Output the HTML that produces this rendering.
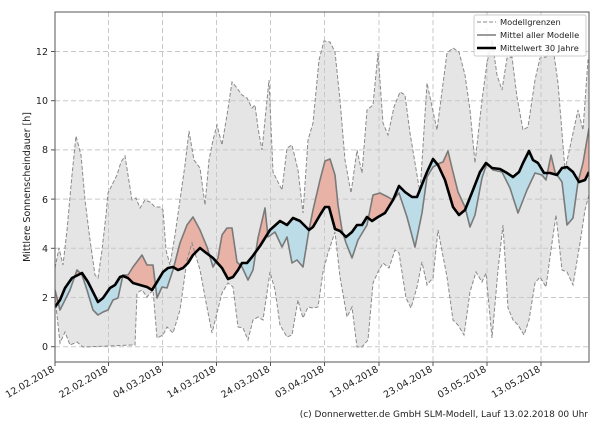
<!DOCTYPE html>
<html><head><meta charset="utf-8"><style>
body{margin:0;background:#fff;width:600px;height:420px;overflow:hidden}
svg text{font-family:"DejaVu Sans","Liberation Sans",sans-serif;fill:#222}
</style></head><body>
<svg width="600" height="420" viewBox="0 0 600 420">
<defs>
<clipPath id="plot"><rect x="55" y="12" width="534" height="350"/></clipPath>
<clipPath id="above"><polygon points="55,0 55,307 60,300 65,288 72,278 82,273 88,282 98,302 103,298 110,288 115,285 120,277 123,276 128,278 133,283 147,287 152,290 157,282 163,272 168,268 173,267 178,270 183,268 188,263 193,255 200,248 205,252 213,258 222,268 228,279 233,277 238,270 242,263 247,263 252,257 260,246 270,230 280,221 287,225 293,218 300,221 309,230 313,227 320,215 325,207 329,207 335,229 340,231 346,237 352,232 357,225 362,225 367,217 372,221 378,217 385,213 393,200 399,186 405,192 412,197 417,197 427,172 433,159 438,165 445,180 453,207 459,215 465,210 473,190 480,172 486,163 492,168 500,169 507,173 513,177 519,172 523,163 529,151 533,160 538,163 544,173 550,173 557,175 562,168 567,167 573,172 579,182 585,180 589,172 589,0"/></clipPath>
<clipPath id="below"><polygon points="55,420 55,307 60,300 65,288 72,278 82,273 88,282 98,302 103,298 110,288 115,285 120,277 123,276 128,278 133,283 147,287 152,290 157,282 163,272 168,268 173,267 178,270 183,268 188,263 193,255 200,248 205,252 213,258 222,268 228,279 233,277 238,270 242,263 247,263 252,257 260,246 270,230 280,221 287,225 293,218 300,221 309,230 313,227 320,215 325,207 329,207 335,229 340,231 346,237 352,232 357,225 362,225 367,217 372,221 378,217 385,213 393,200 399,186 405,192 412,197 417,197 427,172 433,159 438,165 445,180 453,207 459,215 465,210 473,190 480,172 486,163 492,168 500,169 507,173 513,177 519,172 523,163 529,151 533,160 538,163 544,173 550,173 557,175 562,168 567,167 573,172 579,182 585,180 589,172 589,420"/></clipPath>
</defs>
<g clip-path="url(#plot)">
<polygon fill="#e5e5e5" points="55,268 59,248 63,265 67,230 72,175 76,136 81,155 85,200 90,240 95,275 98,278 102,250 106,215 108,193 112,185 117,175 121,162 125,156 128,175 132,200 136,198 140,208 145,200 150,202 155,207 160,207 163,210 166,250 170,265 175,235 180,200 185,165 189,131 194,160 200,168 205,205 209,160 213,140 217,125 222,145 227,115 232,82 237,88 242,95 247,98 252,108 255,105 258,128 262,150 266,110 269,80 273,172 282,190 287,148 292,145 298,170 303,213 308,140 313,123 319,60 324,41 330,42 335,52 340,100 345,160 351,193 357,150 362,173 367,110 373,105 378,53 383,123 388,135 394,107 400,92 405,95 410,133 420,193 427,83 437,130 447,53 453,48 459,52 465,75 470,110 475,163 482,100 487,63 492,40 497,75 502,90 507,58 512,57 517,97 523,130 528,127 535,80 540,58 546,57 552,40 558,83 565,170 570,147 578,110 583,130 588,60 589,60 589,195 585,210 580,243 573,285 567,272 562,270 556,215 551,250 546,287 540,277 535,283 529,320 524,335 518,325 513,320 508,308 503,225 498,270 492,338 486,273 482,282 476,272 470,292 464,335 458,325 453,320 447,277 438,230 433,278 427,285 422,262 417,287 411,308 406,298 399,253 395,250 389,268 383,263 378,272 373,283 368,340 362,347 357,347 352,307 347,317 340,277 335,232 328,253 323,272 318,307 313,308 308,307 303,318 300,308 298,300 292,335 287,337 280,325 275,290 270,272 263,320 258,317 253,320 248,340 243,328 238,327 233,287 228,283 222,293 217,313 212,333 205,297 200,270 192,243 187,260 180,310 173,333 167,327 163,335 157,338 153,290 147,297 142,290 137,293 135,345 133,345 83,347 77,342 70,345 65,332 60,343 55,297"/>
</g>
<g stroke="#c8c8c8" stroke-width="1" stroke-dasharray="5,3" fill="none">
<line x1="55" y1="346.7" x2="589" y2="346.7"/><line x1="55" y1="297.5" x2="589" y2="297.5"/><line x1="55" y1="248.3" x2="589" y2="248.3"/><line x1="55" y1="199.1" x2="589" y2="199.1"/><line x1="55" y1="149.9" x2="589" y2="149.9"/><line x1="55" y1="100.7" x2="589" y2="100.7"/><line x1="55" y1="51.5" x2="589" y2="51.5"/>
<line x1="108.5" y1="12" x2="108.5" y2="362"/><line x1="162.5" y1="12" x2="162.5" y2="362"/><line x1="216.5" y1="12" x2="216.5" y2="362"/><line x1="270.5" y1="12" x2="270.5" y2="362"/><line x1="324.5" y1="12" x2="324.5" y2="362"/><line x1="379" y1="12" x2="379" y2="362"/><line x1="433" y1="12" x2="433" y2="362"/><line x1="487" y1="12" x2="487" y2="362"/><line x1="541" y1="12" x2="541" y2="362"/>
</g>
<g clip-path="url(#plot)">
<polygon clip-path="url(#above)" fill="#e8b2a6" points="55,290 60,310 70,290 77,270 82,275 87,290 93,310 98,315 103,312 108,310 113,300 118,298 123,275 128,275 133,267 142,255 147,265 153,265 157,298 162,287 167,288 173,270 180,243 187,225 193,217 200,230 207,247 213,267 218,258 222,235 227,228 232,228 237,262 242,267 248,280 253,270 258,238 265,208 268,237 275,232 282,247 287,237 292,263 297,260 303,267 309,230 313,210 320,180 325,161 330,159 335,175 338,205 342,230 346,243 352,258 358,240 367,225 373,195 380,193 388,197 393,200 399,193 407,217 415,247 422,213 427,177 433,167 440,163 443,162 448,151 452,168 458,192 465,207 470,227 475,215 482,178 487,163 493,170 502,172 510,188 518,213 527,190 535,173 542,175 546,180 551,155 555,172 562,182 567,225 573,218 578,182 583,163 589,128 589,172 585,180 579,182 573,172 567,167 562,168 557,175 550,173 544,173 538,163 533,160 529,151 523,163 519,172 513,177 507,173 500,169 492,168 486,163 480,172 473,190 465,210 459,215 453,207 445,180 438,165 433,159 427,172 417,197 412,197 405,192 399,186 393,200 385,213 378,217 372,221 367,217 362,225 357,225 352,232 346,237 340,231 335,229 329,207 325,207 320,215 313,227 309,230 300,221 293,218 287,225 280,221 270,230 260,246 252,257 247,263 242,263 238,270 233,277 228,279 222,268 213,258 205,252 200,248 193,255 188,263 183,268 178,270 173,267 168,268 163,272 157,282 152,290 147,287 133,283 128,278 123,276 120,277 115,285 110,288 103,298 98,302 88,282 82,273 72,278 65,288 60,300 55,307"/>
<polygon clip-path="url(#below)" fill="#bcdce8" points="55,290 60,310 70,290 77,270 82,275 87,290 93,310 98,315 103,312 108,310 113,300 118,298 123,275 128,275 133,267 142,255 147,265 153,265 157,298 162,287 167,288 173,270 180,243 187,225 193,217 200,230 207,247 213,267 218,258 222,235 227,228 232,228 237,262 242,267 248,280 253,270 258,238 265,208 268,237 275,232 282,247 287,237 292,263 297,260 303,267 309,230 313,210 320,180 325,161 330,159 335,175 338,205 342,230 346,243 352,258 358,240 367,225 373,195 380,193 388,197 393,200 399,193 407,217 415,247 422,213 427,177 433,167 440,163 443,162 448,151 452,168 458,192 465,207 470,227 475,215 482,178 487,163 493,170 502,172 510,188 518,213 527,190 535,173 542,175 546,180 551,155 555,172 562,182 567,225 573,218 578,182 583,163 589,128 589,172 585,180 579,182 573,172 567,167 562,168 557,175 550,173 544,173 538,163 533,160 529,151 523,163 519,172 513,177 507,173 500,169 492,168 486,163 480,172 473,190 465,210 459,215 453,207 445,180 438,165 433,159 427,172 417,197 412,197 405,192 399,186 393,200 385,213 378,217 372,221 367,217 362,225 357,225 352,232 346,237 340,231 335,229 329,207 325,207 320,215 313,227 309,230 300,221 293,218 287,225 280,221 270,230 260,246 252,257 247,263 242,263 238,270 233,277 228,279 222,268 213,258 205,252 200,248 193,255 188,263 183,268 178,270 173,267 168,268 163,272 157,282 152,290 147,287 133,283 128,278 123,276 120,277 115,285 110,288 103,298 98,302 88,282 82,273 72,278 65,288 60,300 55,307"/>
<g fill="none" stroke="#8a8a8a" stroke-width="1" stroke-dasharray="4,2">
<polyline points="55,268 59,248 63,265 67,230 72,175 76,136 81,155 85,200 90,240 95,275 98,278 102,250 106,215 108,193 112,185 117,175 121,162 125,156 128,175 132,200 136,198 140,208 145,200 150,202 155,207 160,207 163,210 166,250 170,265 175,235 180,200 185,165 189,131 194,160 200,168 205,205 209,160 213,140 217,125 222,145 227,115 232,82 237,88 242,95 247,98 252,108 255,105 258,128 262,150 266,110 269,80 273,172 282,190 287,148 292,145 298,170 303,213 308,140 313,123 319,60 324,41 330,42 335,52 340,100 345,160 351,193 357,150 362,173 367,110 373,105 378,53 383,123 388,135 394,107 400,92 405,95 410,133 420,193 427,83 437,130 447,53 453,48 459,52 465,75 470,110 475,163 482,100 487,63 492,40 497,75 502,90 507,58 512,57 517,97 523,130 528,127 535,80 540,58 546,57 552,40 558,83 565,170 570,147 578,110 583,130 588,60 589,60"/>
<polyline points="589,195 585,210 580,243 573,285 567,272 562,270 556,215 551,250 546,287 540,277 535,283 529,320 524,335 518,325 513,320 508,308 503,225 498,270 492,338 486,273 482,282 476,272 470,292 464,335 458,325 453,320 447,277 438,230 433,278 427,285 422,262 417,287 411,308 406,298 399,253 395,250 389,268 383,263 378,272 373,283 368,340 362,347 357,347 352,307 347,317 340,277 335,232 328,253 323,272 318,307 313,308 308,307 303,318 300,308 298,300 292,335 287,337 280,325 275,290 270,272 263,320 258,317 253,320 248,340 243,328 238,327 233,287 228,283 222,293 217,313 212,333 205,297 200,270 192,243 187,260 180,310 173,333 167,327 163,335 157,338 153,290 147,297 142,290 137,293 135,345 133,345 83,347 77,342 70,345 65,332 60,343 55,297"/>
</g>
<polyline fill="none" stroke="#7a7a7a" stroke-width="1.6" stroke-linejoin="round" points="55,290 60,310 70,290 77,270 82,275 87,290 93,310 98,315 103,312 108,310 113,300 118,298 123,275 128,275 133,267 142,255 147,265 153,265 157,298 162,287 167,288 173,270 180,243 187,225 193,217 200,230 207,247 213,267 218,258 222,235 227,228 232,228 237,262 242,267 248,280 253,270 258,238 265,208 268,237 275,232 282,247 287,237 292,263 297,260 303,267 309,230 313,210 320,180 325,161 330,159 335,175 338,205 342,230 346,243 352,258 358,240 367,225 373,195 380,193 388,197 393,200 399,193 407,217 415,247 422,213 427,177 433,167 440,163 443,162 448,151 452,168 458,192 465,207 470,227 475,215 482,178 487,163 493,170 502,172 510,188 518,213 527,190 535,173 542,175 546,180 551,155 555,172 562,182 567,225 573,218 578,182 583,163 589,128"/>
<polyline fill="none" stroke="#000" stroke-width="2.6" stroke-linejoin="round" points="55,307 60,300 65,288 72,278 82,273 88,282 98,302 103,298 110,288 115,285 120,277 123,276 128,278 133,283 147,287 152,290 157,282 163,272 168,268 173,267 178,270 183,268 188,263 193,255 200,248 205,252 213,258 222,268 228,279 233,277 238,270 242,263 247,263 252,257 260,246 270,230 280,221 287,225 293,218 300,221 309,230 313,227 320,215 325,207 329,207 335,229 340,231 346,237 352,232 357,225 362,225 367,217 372,221 378,217 385,213 393,200 399,186 405,192 412,197 417,197 427,172 433,159 438,165 445,180 453,207 459,215 465,210 473,190 480,172 486,163 492,168 500,169 507,173 513,177 519,172 523,163 529,151 533,160 538,163 544,173 550,173 557,175 562,168 567,167 573,172 579,182 585,180 589,172"/>
</g>
<rect x="55" y="12" width="534" height="350" fill="none" stroke="#555" stroke-width="1"/>
<g stroke="#555" stroke-width="1">
<line x1="51" y1="346.7" x2="55" y2="346.7"/><line x1="51" y1="297.5" x2="55" y2="297.5"/><line x1="51" y1="248.3" x2="55" y2="248.3"/><line x1="51" y1="199.1" x2="55" y2="199.1"/><line x1="51" y1="149.9" x2="55" y2="149.9"/><line x1="51" y1="100.7" x2="55" y2="100.7"/><line x1="51" y1="51.5" x2="55" y2="51.5"/>
<line x1="55" y1="362" x2="55" y2="366"/><line x1="108.5" y1="362" x2="108.5" y2="366"/><line x1="162.5" y1="362" x2="162.5" y2="366"/><line x1="216.5" y1="362" x2="216.5" y2="366"/><line x1="270.5" y1="362" x2="270.5" y2="366"/><line x1="324.5" y1="362" x2="324.5" y2="366"/><line x1="379" y1="362" x2="379" y2="366"/><line x1="433" y1="362" x2="433" y2="366"/><line x1="487" y1="362" x2="487" y2="366"/><line x1="541" y1="362" x2="541" y2="366"/>
</g>
<g font-size="9.5" text-anchor="end">
<text x="48" y="350">0</text><text x="48" y="301">2</text><text x="48" y="252">4</text><text x="48" y="203">6</text><text x="48" y="153">8</text><text x="48" y="104">10</text><text x="48" y="55">12</text>
</g>
<text font-size="9.5" text-anchor="middle" transform="translate(30,187) rotate(-90)">Mittlere Sonnenscheindauer [h]</text>
<g font-size="9.5" text-anchor="end">
<text transform="translate(55,371) rotate(-30)">12.02.2018</text>
<text transform="translate(108.5,371) rotate(-30)">22.02.2018</text>
<text transform="translate(162.5,371) rotate(-30)">04.03.2018</text>
<text transform="translate(216.5,371) rotate(-30)">14.03.2018</text>
<text transform="translate(270.5,371) rotate(-30)">24.03.2018</text>
<text transform="translate(324.5,371) rotate(-30)">03.04.2018</text>
<text transform="translate(379,371) rotate(-30)">13.04.2018</text>
<text transform="translate(433,371) rotate(-30)">23.04.2018</text>
<text transform="translate(487,371) rotate(-30)">03.05.2018</text>
<text transform="translate(541,371) rotate(-30)">13.05.2018</text>
</g>
<text x="588" y="417" font-size="9" text-anchor="end">(c) Donnerwetter.de GmbH SLM-Modell, Lauf 13.02.2018 00 Uhr</text>
<rect x="474" y="15" width="112" height="41" fill="#fff" fill-opacity="0.85" stroke="#ccc" stroke-width="1" rx="2"/>
<line x1="477" y1="22" x2="496" y2="22" stroke="#8a8a8a" stroke-width="1" stroke-dasharray="4,2"/>
<line x1="477" y1="35" x2="496" y2="35" stroke="#7a7a7a" stroke-width="1.6"/>
<line x1="477" y1="48" x2="496" y2="48" stroke="#000" stroke-width="2.6"/>
<g font-size="8.3"><text x="500" y="25">Modellgrenzen</text><text x="500" y="38">Mittel aller Modelle</text><text x="500" y="51">Mittelwert 30 Jahre</text></g>
</svg>
</body></html>
